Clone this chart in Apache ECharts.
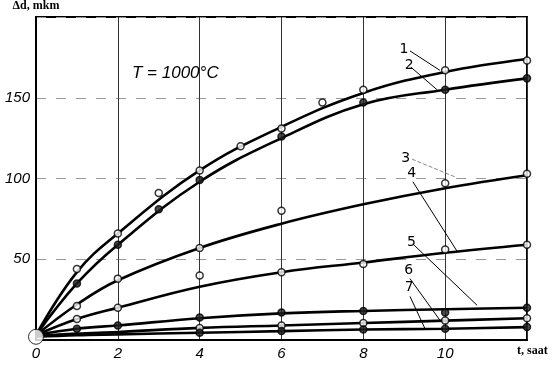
<!DOCTYPE html>
<html>
<head>
<meta charset="utf-8">
<script src="https://cdn.jsdelivr.net/npm/echarts@6/dist/echarts.min.js"></script>
<style>
  html, body { margin: 0; padding: 0; background: #fff; }
  #main { width: 556px; height: 370px; }
</style>
</head>
<body>
<div id="main"></div>
<script>
// time, hours (points the curves go through)
var tHours = [0, 1, 2, 4, 6, 8, 10, 12];
var curve1 = [3, 42, 66, 105, 132, 153, 166, 174];
var curve2 = [3, 35, 59, 98, 125, 146, 155, 162];
var curve3 = [3, 22, 37, 57, 72, 84, 94, 102];
var curve4 = [3, 13, 20, 33, 42, 48, 54, 59];
var curve5 = [3, 7, 9, 13.5, 16.5, 18, 19, 20];
var curve6 = [2.5, 4, 5, 7.5, 9, 10.5, 12, 13.5];
var curve7 = [2, 3, 3.5, 4.5, 5.5, 6.5, 7, 8];

// measured points
var markTimes = [1, 2, 3, 4, 5, 6, 7, 8, 10, 12];
var mark1 = [44, 66, 91, 105, 120, 131, 147, 155, 167, 173];
var mark2 = [35, 59, 81, 99, null, 126, null, 147, 155, 162];
var mark3 = [21, 38, null, 57, null, 80, null, null, 97, 103];
var mark4 = [13, 20, null, 40, null, 42, null, 47, 56, 59];
var mark5 = [7, 9, null, 14, null, 17, null, 18, 17, 20];
var mark6 = [null, null, null, 7.5, null, 9, null, 10.5, 12, 13.5];
var mark7 = [null, null, null, 4.5, null, 5.5, null, 6.5, 7, 8];

var curveNames = ["1", "2", "3", "4", "5", "6", "7"];
var xTicks = [0, 2, 4, 6, 8, 10];
var yTicks = [50, 100, 150];

var chartDom = document.getElementById("main");
var myChart = echarts.init(chartDom);

var curves = [curve1, curve2, curve3, curve4, curve5, curve6, curve7];
var marks = [mark1, mark2, mark3, mark4, mark5, mark6, mark7];
var openMarks = [true, false, true, true, false, true, false];
// leader lines from number label to curve: [start, end] in data units
var leaders = [
    [[9.14, 179], [9.87, 167]],
    [[9.16, 169], [9.8, 155]],
    [[9.19, 112], [10.24, 101]],
    [[9.21, 98], [10.29, 55]],
    [[9.21, 59.5], [10.78, 21.5]],
    [[9.14, 38], [9.87, 12.3]],
    [[9.14, 27], [9.5, 7.4]]
];

var series = [];
for (let i = 0; i < curves.length; i++) {
    series.push({
        type: "line",
        name: curveNames[i],
        data: tHours.map(function (t, j) { return [t, curves[i][j]]; }),
        smooth: 0.4,
        showSymbol: false,
        lineStyle: { color: "#000", width: 2.6 },
        z: 3,
        markLine: {
            silent: true,
            symbol: ["none", "none"],
            lineStyle: {
                color: i === 2 ? "#888" : "#000",
                width: 1,
                type: i === 2 ? "dashed" : "solid"
            },
            label: {
                show: true,
                position: "start",
                formatter: curveNames[i],
                color: "#000",
                fontSize: 14,
                fontFamily: "DejaVu Sans",
                distance: 2
            },
            data: [[{ coord: leaders[i][0] }, { coord: leaders[i][1] }]]
        }
    });
    let pts = [];
    for (let j = 0; j < markTimes.length; j++) {
        if (marks[i][j] != null) pts.push([markTimes[j], marks[i][j]]);
    }
    series.push({
        type: "scatter",
        data: pts,
        symbol: "circle",
        symbolSize: 7,
        itemStyle: {
            color: openMarks[i] ? "#fff" : "#222",
            borderColor: "#000",
            borderWidth: 1.5
        },
        z: 4
    });
}
// open circle at the origin
series.push({
    type: "scatter",
    data: [[0, 2]],
    symbolSize: 15,
    itemStyle: { color: "#fff", borderColor: "#000", borderWidth: 1 },
    z: 5
});

var option = {
    backgroundColor: "#fff",
    animation: false,
    title: {
        text: "T = 1000°C",
        left: 127,
        top: 60,
        textStyle: {
            fontFamily: "Liberation Sans",
            fontStyle: "italic",
            fontWeight: "normal",
            fontSize: 17,
            color: "#000"
        }
    },
    grid: {
        left: 36,
        right: 29,
        top: 15,
        bottom: 30,
        show: true,
        borderColor: "#000",
        borderWidth: 2
    },
    xAxis: {
        type: "value",
        min: 0,
        max: 12,
        interval: 2,
        name: "t, saat",
        nameLocation: "end",
        nameGap: -10,
        nameTextStyle: {
            fontFamily: "Liberation Serif",
            fontWeight: "bold",
            fontSize: 12,
            color: "#000",
            align: "left",
            verticalAlign: "top",
            padding: [5, 0, 0, 0]
        },
        axisLine: { lineStyle: { color: "#000", width: 2 } },
        axisTick: { show: false },
        splitLine: { show: true, lineStyle: { color: "#333", width: 1 } },
        axisLabel: {
            margin: 6,
            fontFamily: "Liberation Sans",
            fontStyle: "italic",
            fontSize: 15,
            color: "#000",
            formatter: function (v) { return xTicks.indexOf(v) >= 0 ? String(v) : ""; }
        }
    },
    yAxis: {
        type: "value",
        min: 0,
        max: 200,
        interval: 50,
        name: "Δd, mkm",
        nameLocation: "end",
        nameGap: 5,
        nameTextStyle: {
            fontFamily: "Liberation Serif",
            fontWeight: "bold",
            fontSize: 12,
            color: "#000"
        },
        axisLine: { show: true, lineStyle: { color: "#000", width: 2 } },
        axisTick: { show: false },
        splitLine: { show: true, lineStyle: { color: "#999", width: 1, type: [10, 10] } },
        axisLabel: {
            margin: 6,
            fontFamily: "Liberation Sans",
            fontStyle: "italic",
            fontSize: 15,
            color: "#000",
            formatter: function (v) { return yTicks.indexOf(v) >= 0 ? String(v) : ""; }
        }
    },
    series: series
};

option && myChart.setOption(option);
</script>
</body>
</html>
